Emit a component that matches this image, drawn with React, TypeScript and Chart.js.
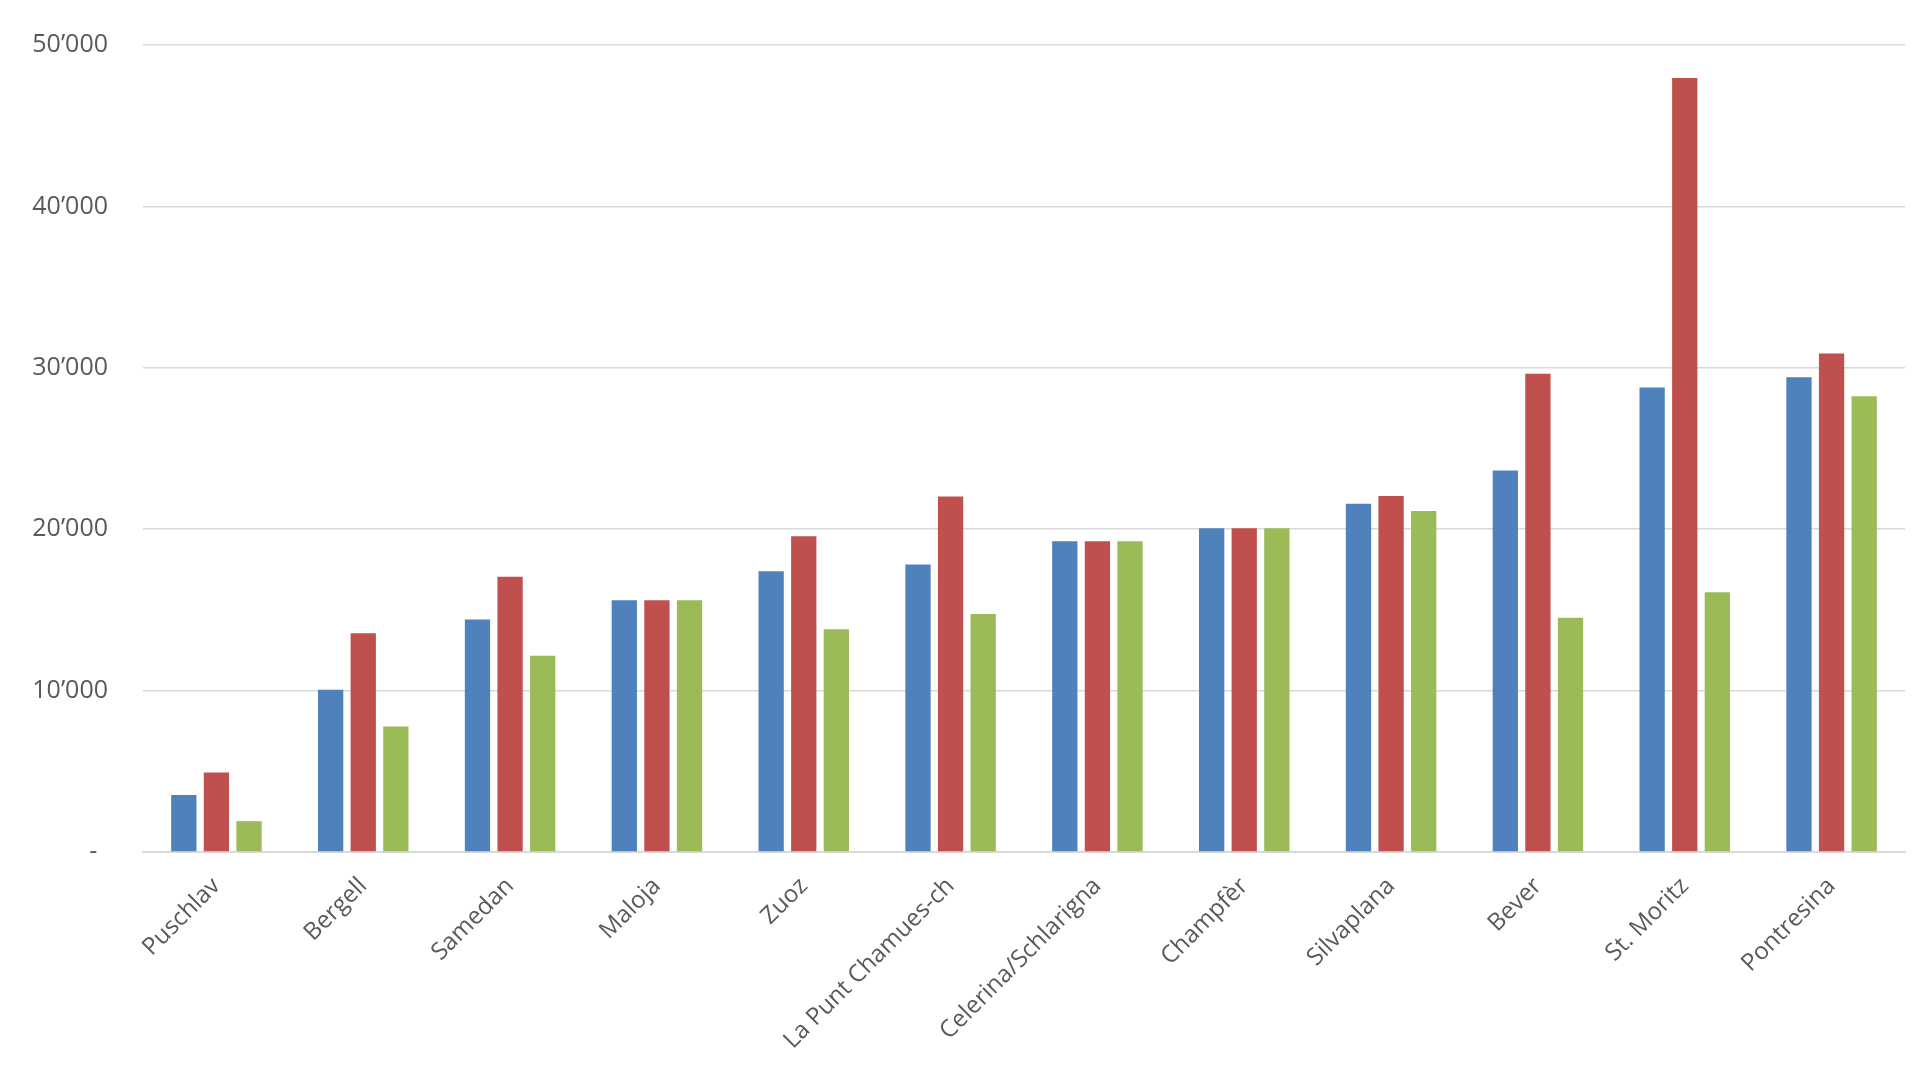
import { useEffect, useRef } from "react";
import { Chart, registerables } from "chart.js";

Chart.register(...registerables);

// Categories (x axis)
const places = [
  "Puschlav",
  "Bergell",
  "Samedan",
  "Maloja",
  "Zuoz",
  "La Punt Chamues-ch",
  "Celerina/Schlarigna",
  "Champfèr",
  "Silvaplana",
  "Bever",
  "St. Moritz",
  "Pontresina",
];

// Series values
const blueValues = [3530, 10060, 14400, 15600, 17390, 17820, 19250, 20060, 21580, 23630, 28780, 29420];
const redValues = [4930, 13550, 17050, 15600, 19560, 22030, 19250, 20060, 22050, 29630, 47950, 30890];
const greenValues = [1910, 7780, 12160, 15600, 13800, 14750, 19250, 20060, 21120, 14520, 16100, 28240];

// Y axis ticks and their labels
const yTickValues = [0, 10000, 20000, 30000, 40000, 50000];
const yTickLabels = ["-\u00A0\u2009", "10’000", "20’000", "30’000", "40’000", "50’000"];

const App: React.FC = () => {
  const canvasRef = useRef<HTMLCanvasElement>(null);
  const chartRef = useRef<Chart<"bar"> | null>(null);

  useEffect(() => {
    const ctx = canvasRef.current?.getContext("2d");
    if (!ctx) return;

    const textColor = "#595959";
    const gridColor = "#d9d9d9";

    chartRef.current = new Chart(ctx, {
      type: "bar",
      data: {
        labels: places,
        datasets: [
          { label: "Serie 1", data: blueValues, backgroundColor: "#4f81bd" },
          { label: "Serie 2", data: redValues, backgroundColor: "#c0504d" },
          { label: "Serie 3", data: greenValues, backgroundColor: "#9bbb59" },
        ],
      },
      options: {
        responsive: true,
        maintainAspectRatio: false,
        animation: false,
        datasets: {
          bar: {
            categoryPercentage: 0.666,
            barPercentage: 0.776,
          },
        },
        layout: {
          padding: { top: 45, right: 15, bottom: 0, left: 0 },
        },
        plugins: {
          legend: { display: false },
          tooltip: { enabled: false },
        },
        scales: {
          x: {
            grid: { display: false, drawTicks: false },
            border: { display: true, color: gridColor, width: 2 },
            ticks: {
              autoSkip: false,
              minRotation: 45,
              maxRotation: 45,
              padding: 20,
              color: textColor,
              font: { family: "'Open Sans', sans-serif", size: 24 },
            },
            afterFit: (scale) => {
              scale.height = 228;
            },
          },
          y: {
            min: 0,
            max: 50000,
            grid: { color: gridColor, lineWidth: 1.5, drawTicks: false },
            border: { display: false },
            ticks: {
              padding: 35,
              color: textColor,
              font: { family: "'Open Sans', sans-serif", size: 25 },
              callback: (value) => {
                const i = yTickValues.indexOf(Number(value));
                return i >= 0 ? yTickLabels[i] : "";
              },
            },
            afterBuildTicks: (scale) => {
              scale.ticks = yTickValues.map((v) => ({ value: v }));
            },
            afterFit: (scale) => {
              scale.width = 143;
              // tick padding should only push labels sideways, not shrink the plot
              scale.paddingTop = 0;
              scale.paddingBottom = 0;
            },
          },
        },
      },
    });

    return () => {
      chartRef.current?.destroy();
      chartRef.current = null;
    };
  }, []);

  return (
    <div
      style={{
        position: "fixed",
        left: 0,
        top: 0,
        width: 1920,
        height: 1080,
        background: "#ffffff",
      }}
    >
      <canvas ref={canvasRef} />
    </div>
  );
};

export default App;
